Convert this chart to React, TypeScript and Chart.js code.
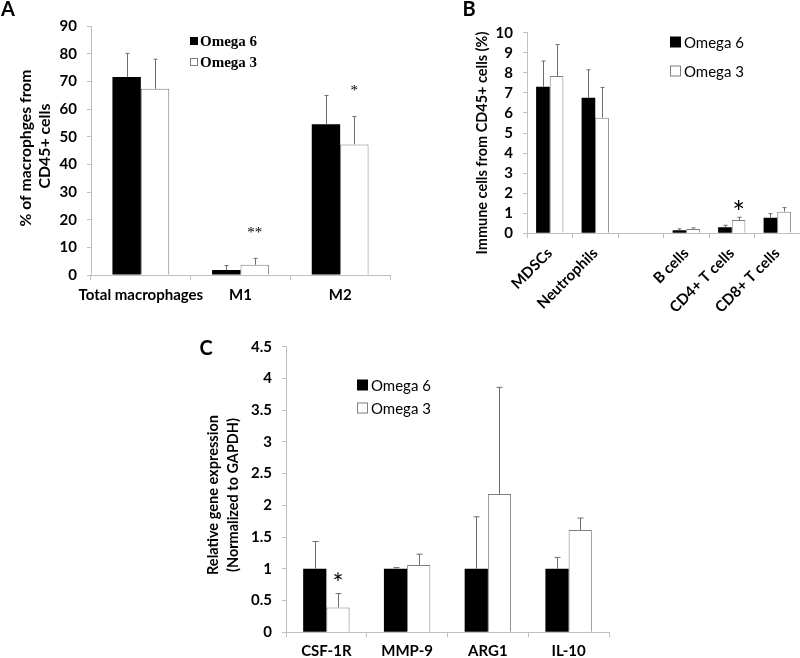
import React, { useEffect, useRef } from "react";
import { Chart, registerables } from "chart.js";

Chart.register(...registerables);

// ---------------- DATA ----------------
const seriesNames = ["Omega 6", "Omega 3"];

// Panel A: % of macrophages from CD45+ cells
const catsA = ["Total macrophages", "M1", "M2"];
const omega6A = [71.6, 1.8, 54.5];
const omega6ErrA = [8.5, 1.6, 10.4];
const omega3A = [67.3, 3.7, 47.2];
const omega3ErrA = [10.7, 2.3, 10.1];
const starsA = ["", "**", "*"];
const yRangeA = [0, 90, 10];

// Panel B: immune cells from CD45+ cells (%)
const catsB = ["MDSCs", "Neutrophils", "", "B cells", "CD4+ T cells", "CD8+ T cells"];
const omega6B = [7.3, 6.76, null, 0.15, 0.3, 0.78];
const omega6ErrB = [1.29, 1.39, null, 0.07, 0.1, 0.2];
const omega3B = [7.84, 5.76, null, 0.22, 0.66, 1.08];
const omega3ErrB = [1.57, 1.51, null, 0.05, 0.14, 0.2];
const starsB = ["", "", "", "", "*", ""];
const yRangeB = [0, 10, 1];

// Panel C: relative gene expression
const catsC = ["CSF-1R", "MMP-9", "ARG1", "IL-10"];
const omega6C = [1.0, 1.0, 1.0, 1.0];
const omega6ErrC = [0.43, 0.02, 0.82, 0.18];
const omega3C = [0.39, 1.06, 2.18, 1.61];
const omega3ErrC = [0.22, 0.17, 1.68, 0.19];
const starsC = ["*", "", "", ""];
const yRangeC = [0, 4.5, 0.5];

// ---------------- STYLE / LAYOUT ----------------
const SANS = "Lato, 'Open Sans', sans-serif";
const SERIF = "'Liberation Serif', 'DejaVu Serif', serif";
const AXIS = "#bfbfbf";
const ERR = "#6d6d6d";
const WHITE_EDGE = "#7f7f7f";

type Box = { left: number; top: number; w: number; h: number };
type Area = { left: number; right: number; top: number; bottom: number };
type TextItem = {
  text: string;
  x: number;
  y: number;
  font: string;
  rot?: number;
  fit?: number;
  align?: CanvasTextAlign;
};
type LegendSpec = { x: number; ys: number[]; box: number; gap: number; font: string };
type Panel = {
  canvas: Box;
  area: Area;
  cats: string[];
  s6: (number | null)[];
  e6: (number | null)[];
  s3: (number | null)[];
  e3: (number | null)[];
  stars: string[];
  starFont: string;
  starOffset: number;
  yRange: number[];
  catPct: number;
  tickFont: number;
  xRot: number;
  xPad: number;
  cap: number;
  texts: TextItem[];
  legend: LegendSpec;
};

function drawText(ctx: CanvasRenderingContext2D, t: TextItem, ox: number, oy: number) {
  ctx.save();
  let font = t.font;
  ctx.font = font;
  if (t.fit) {
    const w = ctx.measureText(t.text).width;
    const m = font.match(/([\d.]+)px/);
    if (m && w > 0) {
      const size = (parseFloat(m[1]) * t.fit) / w;
      font = font.replace(/([\d.]+)px/, size.toFixed(2) + "px");
      ctx.font = font;
    }
  }
  ctx.translate(t.x - ox, t.y - oy);
  if (t.rot) ctx.rotate(t.rot);
  ctx.textAlign = t.align || "center";
  ctx.textBaseline = "middle";
  ctx.fillStyle = "#000";
  ctx.fillText(t.text, 0, 0);
  ctx.restore();
}

function makeConfig(p: Panel): any {
  const yAxisW = p.area.left - p.canvas.left;
  const xAxisH = p.canvas.top + p.canvas.h - p.area.bottom;
  const overlay = {
    id: "overlay",
    afterDatasetsDraw(chart: any) {
      const ctx: CanvasRenderingContext2D = chart.ctx;
      const ys = chart.scales.y;
      const errs = [p.e6, p.e3];
      const vals = [p.s6, p.s3];
      ctx.save();
      ctx.strokeStyle = ERR;
      ctx.lineWidth = 1;
      for (let d = 0; d < 2; d++) {
        const meta = chart.getDatasetMeta(d);
        meta.data.forEach((el: any, i: number) => {
          const v = vals[d][i];
          const e = errs[d][i];
          if (v == null || e == null) return;
          const x = Math.round(el.x) + 0.5;
          const yTop = ys.getPixelForValue(v + e);
          ctx.beginPath();
          ctx.moveTo(x, el.y);
          ctx.lineTo(x, yTop);
          ctx.moveTo(x - p.cap / 2, yTop);
          ctx.lineTo(x + p.cap / 2, yTop);
          ctx.stroke();
        });
      }
      // significance marks above Omega 3 error bars
      const meta3 = chart.getDatasetMeta(1);
      ctx.fillStyle = "#000";
      ctx.font = p.starFont;
      ctx.textAlign = "center";
      ctx.textBaseline = "alphabetic";
      p.stars.forEach((s, i) => {
        if (!s) return;
        const v = p.s3[i];
        const e = p.e3[i];
        if (v == null || e == null) return;
        const el = meta3.data[i];
        const yTop = ys.getPixelForValue(v + e);
        ctx.fillText(s, el.x, yTop - p.starOffset);
      });
      ctx.restore();
    },
    afterDraw(chart: any) {
      const ctx: CanvasRenderingContext2D = chart.ctx;
      const ox = p.canvas.left;
      const oy = p.canvas.top;
      p.texts.forEach((t) => drawText(ctx, t, ox, oy));
      const lg = p.legend;
      ctx.save();
      seriesNames.forEach((name, i) => {
        const yc = lg.ys[i] - oy;
        const x = lg.x - ox;
        if (i === 0) {
          ctx.fillStyle = "#000";
          ctx.fillRect(x, yc - lg.box / 2, lg.box, lg.box);
        } else {
          ctx.fillStyle = "#fff";
          ctx.fillRect(x, yc - lg.box / 2, lg.box, lg.box);
          ctx.strokeStyle = WHITE_EDGE;
          ctx.lineWidth = 1;
          ctx.strokeRect(x + 0.5, yc - lg.box / 2 + 0.5, lg.box - 1, lg.box - 1);
        }
        ctx.fillStyle = "#000";
        ctx.font = lg.font;
        ctx.textAlign = "left";
        ctx.textBaseline = "middle";
        ctx.fillText(name, x + lg.box + lg.gap, yc + 1);
      });
      ctx.restore();
    },
  };

  return {
    type: "bar",
    data: {
      labels: p.cats,
      datasets: [
        {
          label: seriesNames[0],
          data: p.s6,
          backgroundColor: "#000",
          borderWidth: 0,
          categoryPercentage: p.catPct,
          barPercentage: 1,
        },
        {
          label: seriesNames[1],
          data: p.s3,
          backgroundColor: "#fff",
          borderColor: WHITE_EDGE,
          borderWidth: 1,
          categoryPercentage: p.catPct,
          barPercentage: 1,
        },
      ],
    },
    options: {
      animation: false,
      responsive: false,
      maintainAspectRatio: false,
      devicePixelRatio: 1,
      layout: {
        padding: {
          left: 0,
          top: p.area.top - p.canvas.top,
          right: p.canvas.left + p.canvas.w - p.area.right,
          bottom: 0,
        },
      },
      plugins: { legend: { display: false }, tooltip: { enabled: false }, title: { display: false } },
      scales: {
        x: {
          grid: {
            display: true,
            drawOnChartArea: false,
            offset: true,
            tickLength: 5,
            color: AXIS,
          },
          border: { display: true, color: AXIS },
          ticks: {
            color: "#000",
            font: { family: SANS, size: p.tickFont, weight: "bold" },
            maxRotation: p.xRot,
            minRotation: p.xRot,
            autoSkip: false,
            padding: p.xPad,
          },
          afterFit(scale: any) {
            scale.height = xAxisH;
          },
        },
        y: {
          min: p.yRange[0],
          max: p.yRange[1],
          grid: {
            display: true,
            drawOnChartArea: false,
            tickLength: 4,
            color: AXIS,
          },
          border: { display: true, color: AXIS },
          ticks: {
            stepSize: p.yRange[2],
            autoSkip: false,
            color: "#000",
            font: { family: SANS, size: p.tickFont, weight: "bold" },
            padding: 10,
            callback: (v: any) => String(Math.round(Number(v) * 10) / 10),
          },
          afterFit(scale: any) {
            scale.width = yAxisW;
          },
        },
      },
    },
    plugins: [overlay],
  };
}

const panels: Panel[] = [
  {
    canvas: { left: 0, top: 0, w: 400, h: 330 },
    area: { left: 91, right: 390, top: 26, bottom: 275 },
    cats: catsA,
    s6: omega6A,
    e6: omega6ErrA,
    s3: omega3A,
    e3: omega3ErrA,
    stars: starsA,
    starFont: `15px ${SERIF}`,
    starOffset: 21,
    yRange: yRangeA,
    catPct: 0.57,
    tickFont: 15,
    xRot: 0,
    xPad: 6,
    cap: 4,
    texts: [
      { text: "A", x: 8, y: 10, font: `bold 20px ${SANS}` },
      { text: "% of macrophges from", x: 26, y: 148, font: `bold 16px ${SANS}`, rot: -Math.PI / 2, fit: 157 },
      { text: "CD45+ cells", x: 45, y: 146, font: `bold 16px ${SANS}`, rot: -Math.PI / 2, fit: 85 },
    ],
    legend: { x: 190, ys: [41, 62], box: 8, gap: 2, font: `bold 15px ${SERIF}` },
  },
  {
    canvas: { left: 400, top: 0, w: 400, h: 330 },
    area: { left: 527, right: 800, top: 32.7, bottom: 233.3 },
    cats: catsB,
    s6: omega6B,
    e6: omega6ErrB,
    s3: omega3B,
    e3: omega3ErrB,
    stars: starsB,
    starFont: `30px ${SANS}`,
    starOffset: -6,
    yRange: yRangeB,
    catPct: 0.6,
    tickFont: 15,
    xRot: 45,
    xPad: 6,
    cap: 4,
    texts: [
      { text: "B", x: 469, y: 10, font: `bold 20px ${SANS}` },
      { text: "Immune cells from CD45+ cells (%)", x: 482, y: 143, font: `bold 16px ${SANS}`, rot: -Math.PI / 2, fit: 223 },
    ],
    legend: { x: 670, ys: [42, 71], box: 11, gap: 3, font: `15px ${SANS}` },
  },
  {
    canvas: { left: 180, top: 300, w: 460, h: 358 },
    area: { left: 286, right: 609, top: 346.7, bottom: 632.3 },
    cats: catsC,
    s6: omega6C,
    e6: omega6ErrC,
    s3: omega3C,
    e3: omega3ErrC,
    stars: starsC,
    starFont: `26px ${SANS}`,
    starOffset: 1,
    yRange: yRangeC,
    catPct: 0.575,
    tickFont: 15,
    xRot: 0,
    xPad: 5,
    cap: 6,
    texts: [
      { text: "C", x: 206, y: 349, font: `bold 20px ${SANS}` },
      { text: "Relative gene expression", x: 213, y: 495, font: `bold 14px ${SANS}`, rot: -Math.PI / 2, fit: 160 },
      { text: "(Normalized to GAPDH)", x: 233, y: 495, font: `bold 14px ${SANS}`, rot: -Math.PI / 2, fit: 154 },
    ],
    legend: { x: 357, ys: [385, 408], box: 11, gap: 3, font: `15px ${SANS}` },
  },
];

function PanelChart({ p }: { p: Panel }) {
  const ref = useRef<HTMLCanvasElement | null>(null);
  useEffect(() => {
    if (!ref.current) return;
    const chart = new Chart(ref.current, makeConfig(p));
    return () => chart.destroy();
  }, [p]);
  return (
    <canvas
      ref={ref}
      width={p.canvas.w}
      height={p.canvas.h}
      style={{
        position: "absolute",
        left: p.canvas.left,
        top: p.canvas.top,
        width: p.canvas.w,
        height: p.canvas.h,
      }}
    />
  );
}

export default function App() {
  return (
    <div
      style={{
        position: "fixed",
        left: 0,
        top: 0,
        width: 800,
        height: 658,
        background: "#fff",
        overflow: "hidden",
      }}
    >
      {panels.map((p, i) => (
        <PanelChart key={i} p={p} />
      ))}
    </div>
  );
}
